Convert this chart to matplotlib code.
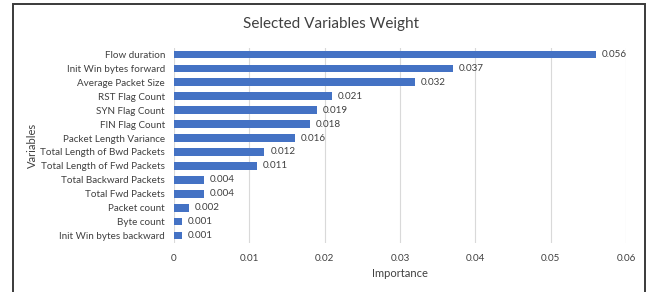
import matplotlib
matplotlib.use("Agg")
from matplotlib import pyplot as plt
from matplotlib.patches import Rectangle

variables = ['Flow duration', 'Init Win bytes forward', 'Average Packet Size',
             'RST Flag Count', 'SYN Flag Count', 'FIN Flag Count',
             'Packet Length Variance', 'Total Length of Bwd Packets',
             'Total Length of Fwd Packets', 'Total Backward Packets',
             'Total Fwd Packets', 'Packet count', 'Byte count',
             'Init Win bytes backward']
weights = [0.056, 0.037, 0.032, 0.021, 0.019, 0.018, 0.016, 0.012,
           0.011, 0.004, 0.004, 0.002, 0.001, 0.001]
ticks = [0, 0.01, 0.02, 0.03, 0.04, 0.05, 0.06]
tick_labels = ['0', '0.01', '0.02', '0.03', '0.04', '0.05', '0.06']

plt.rcParams['font.family'] = ['Lato', 'DejaVu Sans']
txt = '#404040'
fs = 7.1

fig = plt.figure(figsize=(6.5, 2.92), dpi=100)
# outer frame (bottom edge falls outside the picture)
fig.patches.append(Rectangle((13/650, -0.05), (645-13)/650, 1 - 4/292 + 0.05,
                             transform=fig.transFigure, fill=False,
                             edgecolor='#3a3a3a', linewidth=1.4))

ax = fig.add_axes([174/650, 1 - 242.5/292, (626-174)/650, 195/292])
ypos = list(range(len(variables)))
bars = ax.barh(ypos, weights, height=0.55, color='#4472C4', zorder=3)
ax.set_ylim(len(variables) - 0.5, -0.5)
ax.set_xlim(0, 0.06)
ax.set_yticks(ypos)
ax.set_yticklabels(variables, fontsize=fs, color=txt)
ax.set_xticks(ticks)
ax.set_xticklabels(tick_labels, fontsize=fs, color=txt)
ax.tick_params(length=0)
ax.tick_params(axis='y', pad=6.5)
ax.tick_params(axis='x', pad=8)
ax.grid(axis='x', color='#d9d9d9', linewidth=0.8, zorder=0)
for s in ax.spines.values():
    s.set_visible(False)

for b, w in zip(bars, weights):
    ax.text(b.get_width() + 0.0008, b.get_y() + b.get_height() / 2,
            f'{w:.3f}', va='center', ha='left', fontsize=fs, color=txt)

ax.set_xlabel('Importance', fontsize=8, color=txt, labelpad=4)
ax.set_ylabel('Variables', fontsize=8, color=txt)
ax.yaxis.set_label_coords(-(174-38)/452, 0.5)
fig.text(331/650, 1 - 24/292, 'Selected Variables Weight', ha='center',
         va='center', fontsize=11, color=txt)

fig.savefig('out.png', dpi=100, facecolor='white')
